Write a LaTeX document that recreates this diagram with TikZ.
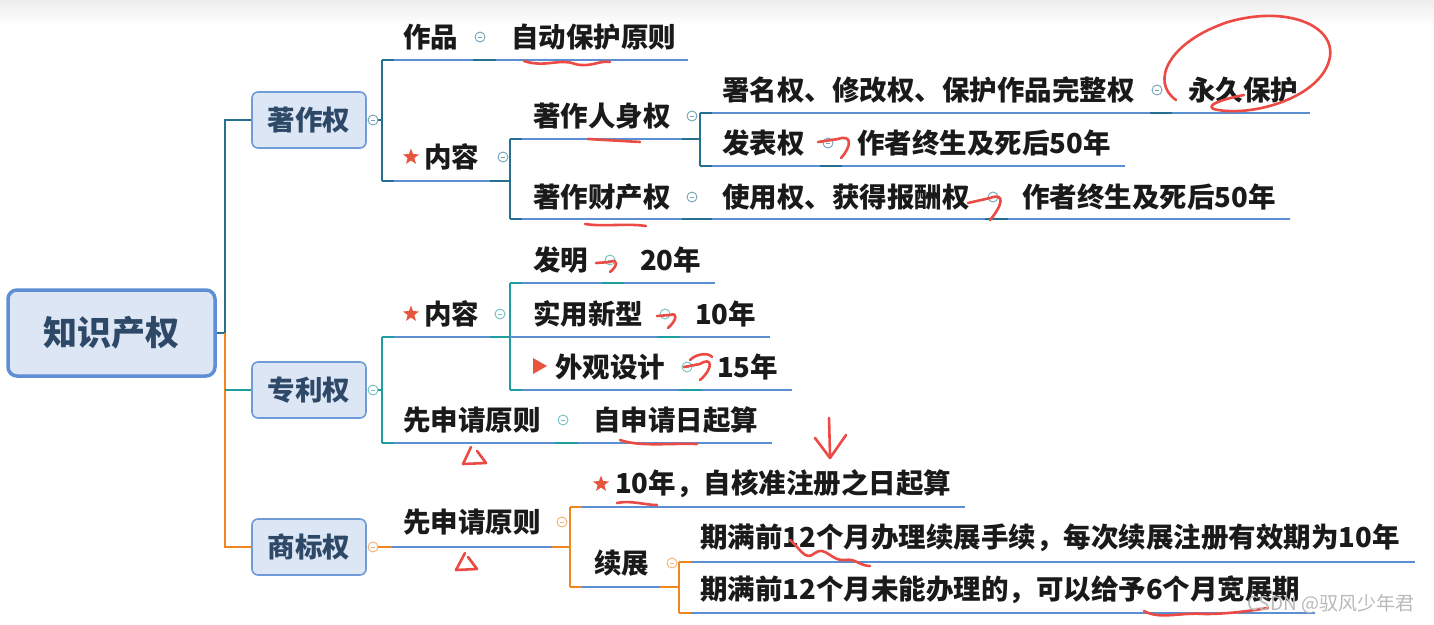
\documentclass[tikz,border=0pt]{standalone}
\usepackage{fontspec}
\setmainfont{Noto Sans CJK SC}
\usetikzlibrary{shapes.geometric}
\definecolor{ul}{HTML}{5B8FD2}
\definecolor{cA}{HTML}{25708E}
\definecolor{cB}{HTML}{1E9E9E}
\definecolor{cC}{HTML}{F0861E}
\definecolor{boxfill}{HTML}{DCE6F4}
\definecolor{boxdraw}{HTML}{6F9BD8}
\definecolor{rootdraw}{HTML}{5E8FD6}
\definecolor{boxtxt}{HTML}{2E4868}
\definecolor{ink}{HTML}{1A1A1A}
\definecolor{penred}{HTML}{EC4A44}
\definecolor{starred}{HTML}{E8553F}
\tikzset{
  t/.style={anchor=west, inner sep=0pt, text=ink, font=\fontsize{27.5}{30}\selectfont\bfseries},
  bx/.style={draw=boxdraw, fill=boxfill, line width=1.6pt, rounded corners=6pt, text=boxtxt,
    font=\fontsize{27.5}{30}\selectfont\bfseries, minimum width=114pt, minimum height=56pt, inner sep=0pt},
  rootbox/.style={draw=rootdraw, fill=boxfill, line width=3.5pt, rounded corners=9pt, text=boxtxt,
    font=\fontsize{34}{38}\selectfont\bfseries, minimum width=207pt, minimum height=86pt, inner sep=0pt},
  uline/.style={draw=ul, line width=2.8pt},
  conA/.style={draw=cA, line width=2.8pt},
  conB/.style={draw=cB, line width=2.8pt},
  conC/.style={draw=cC, line width=2.8pt},
  icon/.style={circle, draw=#1!65, line width=0.9pt, minimum size=10pt, inner sep=0pt, fill=white,
    path picture={\draw[#1!65, line width=0.8pt] ([xshift=-2.4pt]path picture bounding box.center) -- ([xshift=2.4pt]path picture bounding box.center);}},
  redstar/.style={star, star points=5, star point ratio=2.4, fill=starred, minimum size=17pt, inner sep=0pt},
  hand/.style={draw=penred, line width=2.6pt, line cap=round, line join=round},
  wm/.style={anchor=west, inner sep=0pt, text=gray!55, font=\fontsize{19}{21}\selectfont}
}
\begin{document}
\begin{tikzpicture}[x=1pt,y=-1pt]
\useasboundingbox (0,0) rectangle (1434,624);
\fill[white] (0,0) rectangle (1434,624);
\shade[top color=black!7, bottom color=white] (0,0) rectangle (1434,26);

% ---------- root and main branches ----------
\node[rootbox] (root) at (111.5,333) {知识产权};
\node[bx] (zzq) at (309,120) {著作权};
\node[bx] (zlq) at (309,390) {专利权};
\node[bx] (sbq) at (309,547) {商标权};
\coordinate (tk) at (225,333);
\draw[conA] (root.east) -- (tk) |- (zzq.west);
\draw[conC] (tk) |- (sbq.west);
\draw[conB] (zlq.west -| tk) -- (zlq.west);

% ---------- 著作权 ----------
\node[icon=cA] (ia) at (373,120) {};
\draw[conA] (ia.east) -- (382,120);
\draw[conA] (382,60) -- (382,181);
\node[t] (zp) at (403,37) {作品};
\node[icon=cA] (izp) at (480,37) {};
\node[t] (zdbh) at (511,37) {自动保护原则};
\draw[uline] (382,60) -- (688,60);
\draw[conA] (382,60) -- (394,60);
\draw[conA] (473,60) -- (496,60);

\node[redstar] (s1) at (411,157) {};
\node[t] (nr1) at (424,157) {内容};
\node[icon=cA] (inr1) at (503,157) {};
\draw[uline] (382,181) -- (510,181);
\draw[conA] (382,181) -- (394,181);
\draw[conA] (490,181) -- (510,181);
\draw[conA] (510,139) -- (510,219);

\node[t] (rsq) at (533,116) {著作人身权};
\node[icon=cA] (irsq) at (692,116) {};
\draw[uline] (510,139) -- (700,139);
\draw[conA] (510,139) -- (522,139);
\draw[conA] (682,139) -- (700,139);
\draw[conA] (700,113) -- (700,166);

\node[t] (smq) at (722,90) {署名权、修改权、保护作品完整权};
\node[icon=cA] (ismq) at (1157,90) {};
\node[t] (yjbh) at (1188,90) {永久保护};
\draw[uline] (700,113) -- (1310,113);
\draw[conA] (700,113) -- (712,113);
\draw[conA] (1150,113) -- (1172,113);

\node[t] (fbq) at (722,143) {发表权};
\node[icon=cA] (ifbq) at (828,143) {};
\node[t] (zz1) at (857,143) {作者终生及死后50年};
\draw[uline] (700,166) -- (1125,166);
\draw[conA] (700,166) -- (712,166);
\draw[conA] (820,166) -- (842,166);

\node[t] (ccq) at (533,197) {著作财产权};
\node[icon=cA] (iccq) at (692,197) {};
\node[t] (syq) at (722,197) {使用权、获得报酬权};
\node[icon=cA] (isyq) at (993,197) {};
\node[t] (zz2) at (1022,197) {作者终生及死后50年};
\draw[uline] (510,219) -- (1290,219);
\draw[conA] (510,219) -- (522,219);
\draw[conA] (682,219) -- (712,219);
\draw[conA] (985,219) -- (1008,219);

% ---------- 专利权 ----------
\node[icon=cB] (ib) at (373,390) {};
\draw[conB] (ib.east) -- (382,390);
\draw[conB] (382,337) -- (382,443);

\node[redstar] (s2) at (411,314) {};
\node[t] (nr2) at (424,314) {内容};
\node[icon=cB] (inr2) at (500,314) {};
\draw[uline] (382,337) -- (510,337);
\draw[conB] (382,337) -- (394,337);
\draw[conB] (490,337) -- (510,337);
\draw[conB] (510,283) -- (510,390);

\node[t] (fm) at (533,260) {发明};
\node[icon=cB] (ifm) at (610,260) {};
\node[t] (n20) at (640,260) {20年};
\draw[uline] (510,283) -- (715,283);
\draw[conB] (510,283) -- (522,283);
\draw[conB] (602,283) -- (624,283);

\node[t] (syxx) at (533,314) {实用新型};
\node[icon=cB] (isyxx) at (665,314) {};
\node[t] (n10) at (695,314) {10年};
\draw[uline] (510,337) -- (770,337);
\draw[conB] (657,337) -- (680,337);

\fill[starred] (533,358) -- (547,366) -- (533,374) -- cycle;
\node[t] (wgsj) at (555,367) {外观设计};
\node[icon=cB] (iwgsj) at (687,367) {};
\node[t] (n15) at (717,367) {15年};
\draw[uline] (510,390) -- (792,390);
\draw[conB] (510,390) -- (522,390);
\draw[conB] (679,390) -- (702,390);

\node[t] (xsq1) at (403,420) {先申请原则};
\node[icon=cB] (ixsq1) at (563,420) {};
\node[t] (zsqr) at (593,420) {自申请日起算};
\draw[uline] (382,443) -- (772,443);
\draw[conB] (382,443) -- (394,443);
\draw[conB] (555,443) -- (578,443);

% ---------- 商标权 ----------
\node[icon=cC] (ic) at (373,547) {};
\node[t] (xsq2) at (403,522) {先申请原则};
\node[icon=cC] (ixsq2) at (562,522) {};
\draw[uline] (ic.east) -- (570,547);
\draw[conC] (ic.east) -- (392,547);
\draw[conC] (552,547) -- (570,547);
\draw[conC] (570,507) -- (570,587);

\node[redstar] (s3) at (601,484) {};
\node[t] (n10b) at (615,484) {10年，自核准注册之日起算};
\draw[uline] (570,507) -- (965,507);
\draw[conC] (570,507) -- (582,507);

\node[t] (xz) at (594,563) {续展};
\node[icon=cC] (ixz) at (672,563) {};
\draw[uline] (570,587) -- (679,587);
\draw[conC] (570,587) -- (582,587);
\draw[conC] (660,587) -- (679,587);
\draw[conC] (679,562) -- (679,613);

\node[t] (xz1) at (700,538) {期满前12个月办理续展手续，每次续展注册有效期为10年};
\draw[uline] (679,562) -- (1415,562);
\draw[conC] (679,562) -- (691,562);

\node[t] (xz2) at (700,590) {期满前12个月未能办理的，可以给予6个月宽展期};
\draw[uline] (679,613) -- (1315,613);
\draw[conC] (679,613) -- (691,613);

% ---------- handwritten red marks ----------
\draw[hand] (524,61) .. controls (545,68) and (560,58) .. (575,64) .. controls (590,68) and (600,60) .. (610,62);
\draw[hand] (588,139) -- (640,142);
\draw[hand] (585,224) .. controls (605,227) and (625,223) .. (646,226);
\draw[hand] (1176,100) .. controls (1150,82) and (1168,42) .. (1228,22)
  .. controls (1290,4) and (1342,28) .. (1328,64)
  .. controls (1315,98) and (1255,116) .. (1218,110)
  .. controls (1200,107) and (1222,99) .. (1244,95);
\draw[hand] (818,142) -- (838,139) .. controls (852,134) and (852,146) .. (841,158);
\draw[hand] (968,203) -- (990,198) .. controls (1006,192) and (1002,206) .. (990,220);
\draw[hand] (596,263) -- (610,262) .. controls (618,258) and (618,266) .. (610,272);
\draw[hand] (657,316) -- (670,315) .. controls (678,312) and (677,320) .. (668,328);
\draw[hand] (684,367) -- (700,364) .. controls (712,356) and (714,368) .. (700,380);
\draw[hand] (690,360) .. controls (696,354) and (708,352) .. (712,357);
\draw[hand] (620,440) .. controls (640,447) and (670,443) .. (697,444);
\draw[hand] (471,447) -- (463,464) -- (486,463) -- (477,451);
\draw[hand] (465,553) -- (456,570) -- (477,569) -- (468,557);
\draw[hand] (829,418) -- (830,455);
\draw[hand] (815,438) -- (830,458) -- (846,435);
\draw[hand] (617,503) .. controls (630,500) and (645,505) .. (657,505);
\draw[hand] (790,540) .. controls (800,548) and (805,562) .. (815,553)
  .. controls (825,545) and (832,562) .. (845,560) .. controls (855,558) and (860,566) .. (870,566);
\draw[hand] (1144,611) .. controls (1160,620) and (1180,612) .. (1205,614) .. controls (1230,614) and (1255,610) .. (1268,608);

% ---------- watermark ----------
\node[wm] (wm) at (1247,604) {CSDN @驭风少年君};
\end{tikzpicture}
\end{document}
